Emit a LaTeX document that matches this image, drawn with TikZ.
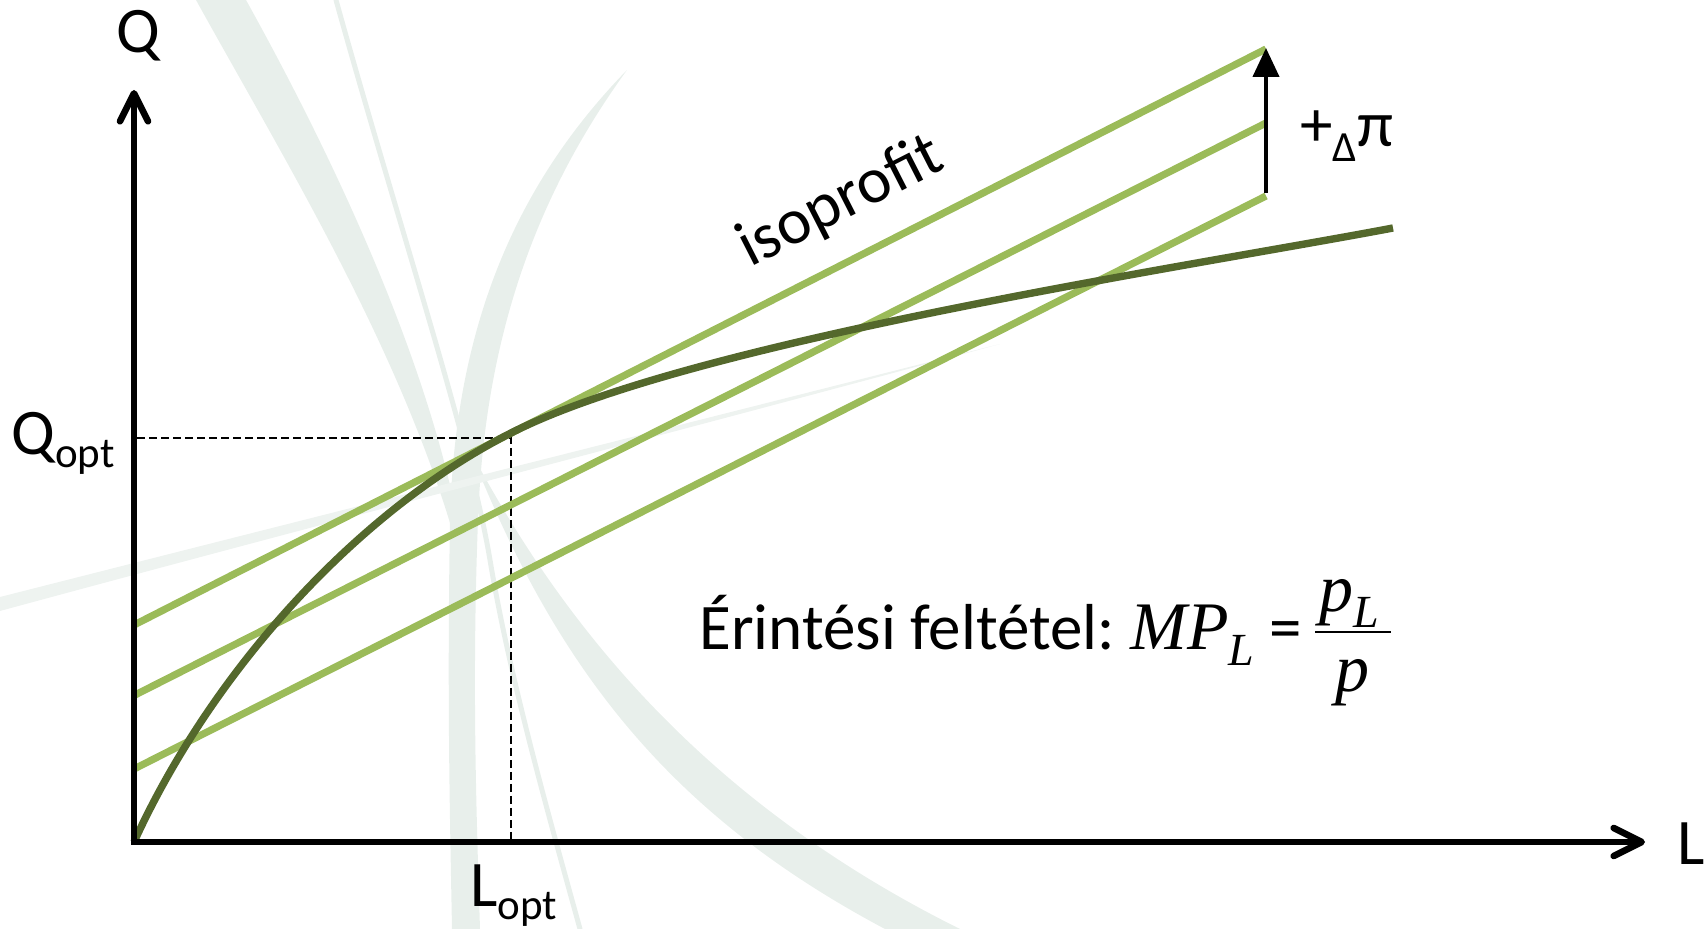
\documentclass[tikz,border=0pt]{standalone}
\usepackage{fontspec}
\setmainfont{Carlito}
\newfontfamily\tmsfont{Liberation Serif}
\usetikzlibrary{arrows.meta}
\definecolor{wm}{RGB}{232,239,235}
\definecolor{wmlight}{RGB}{238,243,240}
\definecolor{isogreen}{RGB}{155,187,89}
\definecolor{prodgreen}{RGB}{84,104,44}
\begin{document}
\begin{tikzpicture}[x=0.5pt,y=-0.5pt,
  lab/.style={inner sep=0pt, font=\fontsize{32.5}{39}\selectfont},
  mathlab/.style={inner sep=0pt, font=\tmsfont\itshape\fontsize{34}{40}\selectfont},
  axis/.style={line width=3.3pt, line join=miter,
    {Straight Barb[length=14pt,width=14pt,line cap=round,line join=round]}-{Straight Barb[length=14pt,width=14pt,line cap=round,line join=round]}},
  iso/.style={isogreen, line width=3.6pt},
  prod/.style={prodgreen, line width=3.7pt},
  guide/.style={line width=0.9pt, dash pattern=on 4pt off 2pt},
  shiftarrow/.style={line width=2.1pt, -{Triangle[length=14.5pt,width=13pt]}},
]
\useasboundingbox (0,0) rectangle (1704,929);
% watermark
\fill[wm] (196,0) .. controls (290,170) and (420,380) .. (468,590) .. controls (450,400) and (335,160) .. (246,0) -- cycle;
\fill[wm] (627,70) .. controls (520,180) and (455,320) .. (450,520) .. controls (447,700) and (450,820) .. (452,929) -- (480,929) .. controls (476,800) and (472,680) .. (478,520) .. controls (485,330) and (540,190) .. (627,70) -- cycle;
\fill[wm] (470,450) .. controls (560,620) and (700,800) .. (960,929) -- (885,929) .. controls (680,820) and (560,680) .. (470,450) -- cycle;
\draw[wm, line width=2.5pt, line cap=round] (336,0) .. controls (400,230) and (470,440) .. (490,560) .. controls (510,680) and (550,820) .. (580,929);
\fill[wmlight] (0,597) .. controls (350,508) and (700,420) .. (1000,344) .. controls (700,426) and (350,516) .. (0,611) -- cycle;

% coordinates
\coordinate (O) at (134,842);
\coordinate (ytip) at (134,90);
\coordinate (xtip) at (1645,842);
\coordinate (a1) at (134,625);   \coordinate (a2) at (1266,49);
\coordinate (b1) at (134,695.5); \coordinate (b2) at (1266,123);
\coordinate (c1) at (134,769);   \coordinate (c2) at (1266,196);
\coordinate (T) at (511,433);
\coordinate (E) at (1393,228);
\coordinate (qo) at (137,438);
\coordinate (corner) at (511,438);
\coordinate (lo) at (511,840);
\coordinate (arrS) at (1266,193);
\coordinate (arrE) at (1266,48);
\coordinate (fracL) at (1315,632);
\coordinate (fracR) at (1391,632);

% guides
\draw[guide] (qo) -- (corner) -- (lo);
% isoprofit lines
\draw[iso] (a1) -- (a2);
\draw[iso] (b1) -- (b2);
\draw[iso] (c1) -- (c2);
% production function
\draw[prod] (O) .. controls (214,667) and (361,509) .. (T) .. controls (691,341) and (1193,266) .. (E);
% profit increase arrow
\draw[shiftarrow] (arrS) -- (arrE);
% axes
\draw[axis] (ytip) -- (O) -- (xtip);

% labels
\node[lab, anchor=base] (Qlab) at (138,53) {Q};
\node[lab, anchor=base west] (Llab) at (1677,865) {L};
\node[lab, anchor=base west] (Qopt) at (11,455) {Q\raisebox{-6.5pt}{\fontsize{21.5}{26}\selectfont opt}};
\node[lab, anchor=base west] (Lopt) at (470,907) {L\raisebox{-6.5pt}{\fontsize{21.5}{26}\selectfont opt}};
\node[lab, anchor=base west, rotate=27] (isolab) at (750,268) {isoprofit};
\node[lab, anchor=base west] (dpi) at (1300,147) {+\raisebox{-7.5pt}{\fontsize{21.5}{26}\selectfont Δ}π};

% condition
\node[lab, anchor=base west] (cond) at (699,650) {Érintési feltétel:};
\node[mathlab, anchor=base west] (mp) at (1130,650) {MP\raisebox{-8pt}{\fontsize{23}{27}\selectfont L}};
\node[lab, anchor=base] (eq) at (1286,650) {=};
\node[mathlab, anchor=base west] (num) at (1319,612) {p\raisebox{-8pt}{\fontsize{23}{27}\selectfont L}};
\node[mathlab, anchor=base west] (den) at (1335,692) {p};
\draw[line width=1.4pt] (fracL) -- (fracR);
\end{tikzpicture}
\end{document}
